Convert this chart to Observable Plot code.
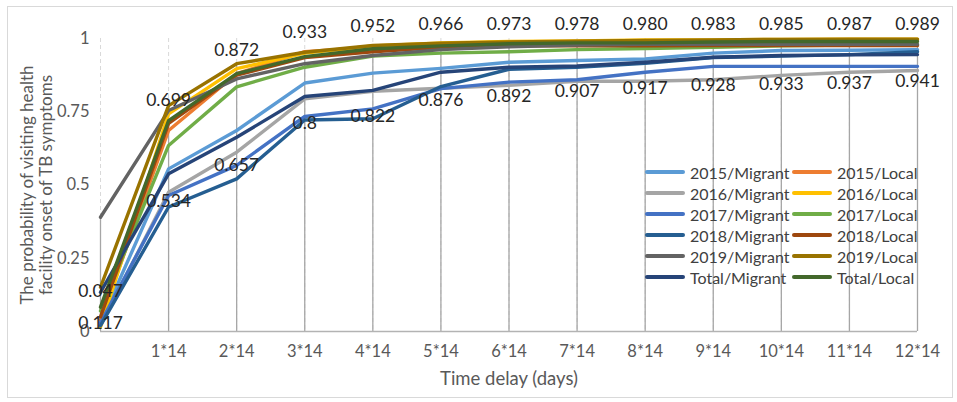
<!DOCTYPE html>
<html>
<head>
<meta charset="utf-8">
<script src="https://cdn.jsdelivr.net/npm/d3@7"></script>
<script src="https://cdn.jsdelivr.net/npm/@observablehq/plot@0.6"></script>
<style>
  html, body { margin: 0; padding: 0; background: #fff; }
  #wrap { position: relative; width: 957px; height: 402px; overflow: hidden; }
  #border { position: absolute; left: 7px; top: 6px; width: 944px; height: 390px; border: 1px solid #d9d9d9; pointer-events: none; }
  #legend { position: absolute; left: 0; top: 0; width: 957px; height: 402px; pointer-events: none; font-family: Lato, "Noto Sans", sans-serif; font-size: 16px; color: #404040; }
  .item { position: absolute; display: flex; align-items: center; height: 20px; white-space: nowrap; }
  .sw { width: 40px; height: 4px; border-radius: 2px; margin-right: 5px; }
</style>
</head>
<body>
<div id="wrap"><div id="border"></div><div id="chart"></div><div id="legend"></div></div>
<script>
// x positions (index of 14-day period) and tick labels
const xIndex = [0,1,2,3,4,5,6,7,8,9,10,11,12];
const xTickLabels = ["", "1*14", "2*14", "3*14", "4*14", "5*14", "6*14", "7*14", "8*14", "9*14", "10*14", "11*14", "12*14"];
const yTicks = [0, 0.25, 0.5, 0.75, 1];

// series (drawing / legend order)
const seriesNames = ["2015/Migrant", "2015/Local", "2016/Migrant", "2016/Local", "2017/Migrant", "2017/Local",
                     "2018/Migrant", "2018/Local", "2019/Migrant", "2019/Local", "Total/Migrant", "Total/Local"];
const seriesColors = ["#5B9BD5", "#ED7D31", "#A5A5A5", "#FFC000", "#4472C4", "#70AD47",
                      "#255E91", "#9E480E", "#636363", "#997300", "#264478", "#43682B"];

const migrant2015 = [0.03, 0.555, 0.686, 0.848, 0.882, 0.898, 0.919, 0.925, 0.930, 0.950, 0.959, 0.960, 0.962];
const local2015   = [0.04, 0.686, 0.880, 0.955, 0.970, 0.980, 0.985, 0.990, 0.990, 0.992, 0.995, 0.995, 0.995];
const migrant2016 = [0.02, 0.475, 0.612, 0.794, 0.820, 0.830, 0.840, 0.854, 0.854, 0.859, 0.874, 0.885, 0.891];
const local2016   = [0.015, 0.743, 0.897, 0.950, 0.975, 0.985, 0.990, 0.992, 0.995, 0.995, 0.997, 0.998, 0.998];
const migrant2017 = [0.03, 0.464, 0.567, 0.734, 0.760, 0.829, 0.851, 0.859, 0.885, 0.905, 0.905, 0.905, 0.905];
const local2017   = [0.07, 0.635, 0.835, 0.902, 0.940, 0.950, 0.955, 0.962, 0.966, 0.970, 0.975, 0.978, 0.980];
const migrant2018 = [0.02, 0.425, 0.521, 0.722, 0.726, 0.836, 0.895, 0.902, 0.915, 0.935, 0.940, 0.945, 0.955];
const local2018   = [0.05, 0.710, 0.875, 0.935, 0.955, 0.970, 0.975, 0.975, 0.975, 0.976, 0.976, 0.976, 0.976];
const migrant2019 = [0.39, 0.754, 0.862, 0.914, 0.942, 0.962, 0.972, 0.978, 0.980, 0.980, 0.980, 0.980, 0.980];
const local2019   = [0.151, 0.771, 0.914, 0.953, 0.976, 0.984, 0.988, 0.991, 0.993, 0.995, 0.997, 0.998, 0.998];
const migrantTotal = [0.134, 0.538, 0.663, 0.802, 0.823, 0.885, 0.902, 0.906, 0.919, 0.936, 0.942, 0.944, 0.945];
const localTotal   = [0.083, 0.720, 0.880, 0.938, 0.965, 0.975, 0.982, 0.985, 0.985, 0.988, 0.990, 0.990, 0.990];

const seriesValues = [migrant2015, local2015, migrant2016, local2016, migrant2017, local2017,
                      migrant2018, local2018, migrant2019, local2019, migrantTotal, localTotal];

// data labels shown on the chart
const localLabels   = ["0.047", "0.699", "0.872", "0.933", "0.952", "0.966", "0.973", "0.978", "0.980", "0.983", "0.985", "0.987", "0.989"];
const migrantLabels = ["0.117", "0.534", "0.657", "0.8", "0.822", "0.876", "0.892", "0.907", "0.917", "0.928", "0.933", "0.937", "0.941"];

const yTitle = "The probability of visiting health\nfacility onset of TB symptoms";
const xTitle = "Time delay (days)";

// build table
const rows = [];
seriesNames.forEach((name, s) => {
  seriesValues[s].forEach((v, i) => rows.push({series: name, order: s, x: xIndex[i], y: v}));
});
const maxAt = xIndex.map((x, i) => ({x, top: d3.max(seriesValues, arr => arr[i])}));
const labelRowsLocal = localLabels.map((t, i) => ({x: xIndex[i], v: +t, t}));
const labelRowsMigrant = migrantLabels.map((t, i) => ({x: xIndex[i], v: +t, t}));

const font = 'Lato, "Noto Sans", sans-serif';

const chart = Plot.plot({
  width: 957,
  height: 402,
  marginLeft: 100,
  marginRight: 40,
  marginTop: 38,
  marginBottom: 71,
  style: {fontFamily: font, fontSize: "16px", color: "#595959", background: "transparent", overflow: "visible"},
  x: {type: "linear", domain: [0, 12]},
  y: {domain: [0, 1]},
  color: {domain: seriesNames, range: seriesColors},
  marks: [
    Plot.ruleX(xIndex, {x: d => d, stroke: "#d9d9d9", strokeDasharray: "4,3", strokeWidth: 1}),
    Plot.ruleX(maxAt, {x: "x", y1: 0, y2: "top", stroke: "#a6a6a6", strokeWidth: 1.3}),
    Plot.ruleY([0], {stroke: "#b3b3b3", strokeWidth: 1.3}),
    Plot.axisX({ticks: xIndex.slice(1), tickFormat: i => xTickLabels[i], tickSize: 0, tickPadding: 14, label: null, fontSize: 16.5}),
    Plot.text([xTitle], {frameAnchor: "bottom", dy: 53, fontSize: 18.5, fill: "#595959"}),
    Plot.axisY({ticks: yTicks, tickFormat: d => String(d), tickSize: 0, tickPadding: 11, label: null, fontSize: 16.5}),
    Plot.lineY(rows, {x: "x", y: "y", z: "series", stroke: "series", strokeWidth: 3.4, strokeLinejoin: "round", strokeLinecap: "round"}),
    Plot.text(labelRowsMigrant, {x: "x", y: "v", text: "t", dy: 26, fill: "#262626", fontSize: 17.5}),
    Plot.text(labelRowsLocal, {x: "x", y: d => Math.min(d.v, 0.96), text: "t", dy: -26, fill: "#262626", fontSize: 17.5}),
    Plot.text([yTitle], {frameAnchor: "left", textAnchor: "middle", rotate: -90, dx: -64, lineAnchor: "middle", lineHeight: 1.1, fontSize: 17, fill: "#595959"})
  ]
});
document.getElementById("chart").appendChild(chart);

// legend (HTML, transparent background)
const legend = document.getElementById("legend");
seriesNames.forEach((name, i) => {
  const col = i % 2, row = Math.floor(i / 2);
  const item = document.createElement("div");
  item.className = "item";
  item.style.left = (645 + col * 147) + "px";
  item.style.top = (162 + row * 21) + "px";
  const sw = document.createElement("div");
  sw.className = "sw";
  sw.style.background = seriesColors[i];
  item.appendChild(sw);
  item.appendChild(document.createTextNode(name));
  legend.appendChild(item);
});
</script>
</body>
</html>
